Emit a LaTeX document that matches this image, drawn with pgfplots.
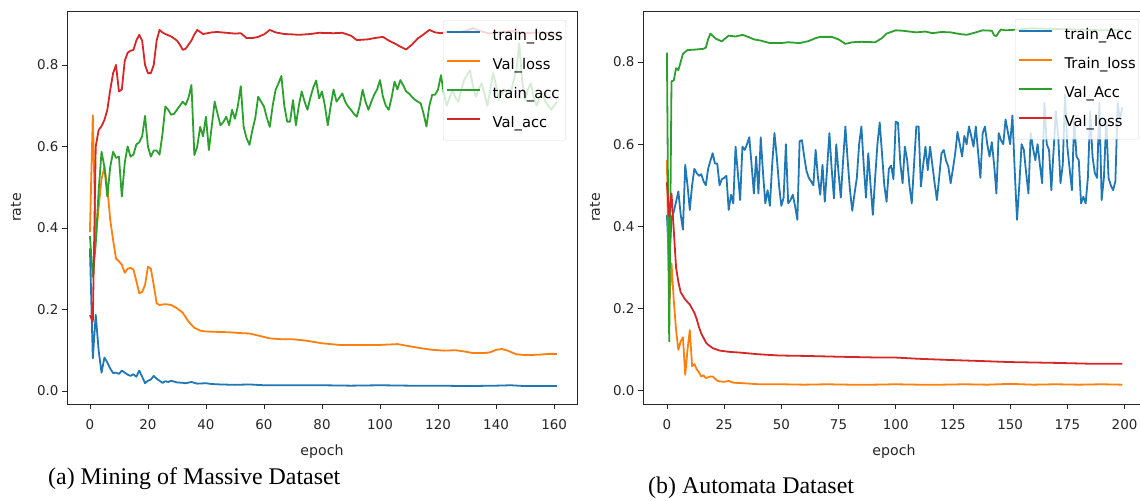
\documentclass[border=0pt]{standalone}
\usepackage{pgfplots}
\pgfplotsset{compat=1.18}
\usepackage{fontspec}
\setmainfont{Liberation Serif}
\newfontfamily\dejavu{DejaVu Sans}
\definecolor{cA}{HTML}{1F77B4}
\definecolor{cB}{HTML}{FF7F0E}
\definecolor{cC}{HTML}{2CA02C}
\definecolor{cD}{HTML}{D62728}
\pgfplotsset{
  mpl/.style={
    scale only axis,
    height=393bp,
    ymin=-0.032,
    ytick={0,0.2,0.4,0.6,0.8},
    axis line style={black!85, line width=0.8bp},
    tick style={black!85, line width=0.8bp},
    tick align=outside,
    tick pos=left,
    major tick length=5bp,
    /pgf/number format/assume math mode=true,
    ticklabel style={font=\dejavu\fontsize{13.5}{16}\selectfont, text=black!85},
    xticklabel style={yshift=-7bp},
    yticklabel style={/pgf/number format/fixed, /pgf/number format/fixed zerofill, /pgf/number format/precision=1},
    label style={font=\dejavu\fontsize{14.2}{17}\selectfont, text=black!85},
    xlabel style={at={(rel axis cs:0.5,0)}, anchor=center, yshift=-48bp},
    every axis plot/.append style={line width=1.8bp, line join=round},
    legend cell align=left,
    legend image code/.code={\draw[#1, line width=2.4bp] (0bp,4.5bp) -- (33bp,4.5bp);},
    legend style={
      anchor=north west,
      draw=black!15, fill=white, fill opacity=0.8, text opacity=1,
      rounded corners=2bp,
      font=\dejavu\fontsize{14.8}{17}\selectfont,
      inner xsep=3bp, inner ysep=9bp,
      row sep=14bp,
      nodes={inner sep=0pt, text height=11bp, text depth=4bp},
      /tikz/every odd column/.append style={column sep=11bp},
    },
  }
}
\begin{document}
\begin{tikzpicture}[x=1bp,y=1bp]
\useasboundingbox (0,0) rectangle (1140,-501);
% ---------------- (a) ----------------
\begin{axis}[mpl,
  at={(67bp,-404bp)}, anchor=south west,
  width=510bp,
  xmin=-7.9, xmax=167.9, ymax=0.9325,
  xtick={0,20,...,160},
  xlabel={epoch}, ylabel={rate},
  ylabel style={at={(rel axis cs:0,0.5)}, anchor=center, yshift=51bp},
  legend style={at={(rel axis cs:0.7373,0.977)}},
]
\addplot[cA] coordinates {(0,0.35)(1,0.08)(2,0.187)(3,0.10)(4,0.045)(5,0.082)(6,0.07)(7,0.055)(8,0.044)(9,0.045)(10,0.042)(11,0.05)(12,0.045)(13,0.04)(14,0.037)(15,0.041)(16,0.035)(17,0.05)(18,0.035)(19,0.019)(20,0.025)(21,0.028)(22,0.037)(23,0.03)(24,0.025)(25,0.02)(26,0.024)(27,0.022)(28,0.025)(30,0.021)(32,0.02)(33,0.019)(35,0.022)(37,0.018)(40,0.019)(42,0.017)(45,0.016)(50,0.015)(55,0.016)(60,0.014)(70,0.014)(80,0.014)(90,0.013)(100,0.014)(110,0.013)(120,0.013)(130,0.012)(140,0.013)(145,0.014)(150,0.012)(161,0.012)};
\addlegendentry{train\_loss}
\addplot[cB] coordinates {(0,0.39)(1,0.677)(2,0.37)(3,0.45)(4,0.52)(5,0.55)(6,0.50)(7,0.42)(8,0.37)(9,0.325)(10,0.318)(11,0.31)(12,0.29)(13,0.30)(14,0.302)(15,0.298)(16,0.27)(17,0.24)(18,0.243)(19,0.26)(20,0.305)(21,0.30)(22,0.26)(23,0.215)(24,0.211)(26,0.213)(28,0.211)(30,0.203)(32,0.192)(34,0.17)(36,0.155)(38,0.148)(40,0.146)(44,0.145)(48,0.144)(52,0.142)(55,0.141)(58,0.136)(62,0.129)(66,0.127)(70,0.127)(75,0.123)(80,0.117)(86,0.113)(92,0.113)(100,0.113)(106,0.115)(110,0.11)(114,0.105)(118,0.101)(122,0.099)(126,0.100)(129,0.097)(132,0.093)(136,0.093)(138,0.095)(140,0.101)(142,0.103)(144,0.099)(147,0.090)(150,0.088)(155,0.089)(158,0.091)(161,0.091)};
\addlegendentry{Val\_loss}
\addplot[cC] coordinates {(0,0.38)(1,0.28)(2,0.36)(3,0.49)(4,0.587)(5,0.55)(6,0.477)(7,0.55)(8,0.587)(9,0.572)(10,0.575)(11,0.477)(12,0.56)(13,0.60)(14,0.575)(15,0.58)(16,0.605)(17,0.61)(18,0.625)(19,0.675)(20,0.60)(21,0.575)(22,0.59)(23,0.59)(24,0.58)(25,0.63)(26,0.698)(27,0.69)(28,0.678)(29,0.68)(30,0.69)(31,0.70)(32,0.71)(33,0.702)(34,0.72)(35,0.751)(36,0.579)(37,0.60)(38,0.648)(39,0.625)(40,0.673)(41,0.591)(42,0.65)(43,0.71)(44,0.68)(45,0.652)(46,0.66)(47,0.673)(48,0.652)(49,0.69)(50,0.668)(51,0.70)(52,0.748)(53,0.648)(54,0.62)(55,0.604)(56,0.64)(57,0.67)(58,0.722)(59,0.71)(60,0.698)(61,0.67)(62,0.648)(63,0.70)(64,0.739)(65,0.755)(66,0.773)(67,0.70)(68,0.661)(69,0.661)(70,0.714)(71,0.652)(72,0.70)(73,0.735)(74,0.71)(75,0.69)(76,0.72)(77,0.745)(78,0.762)(79,0.718)(80,0.735)(81,0.70)(82,0.652)(83,0.70)(84,0.74)(85,0.71)(86,0.72)(87,0.73)(88,0.71)(89,0.698)(90,0.69)(91,0.68)(92,0.673)(93,0.70)(94,0.739)(95,0.71)(96,0.69)(97,0.71)(98,0.727)(99,0.74)(100,0.763)(101,0.722)(102,0.70)(103,0.69)(104,0.72)(105,0.759)(106,0.74)(107,0.763)(108,0.75)(109,0.735)(110,0.73)(111,0.722)(112,0.715)(113,0.71)(114,0.706)(115,0.681)(116,0.649)(117,0.70)(118,0.727)(119,0.727)(120,0.74)(121,0.775)(122,0.73)(123,0.70)(124,0.72)(125,0.74)(126,0.72)(127,0.71)(128,0.74)(129,0.763)(130,0.775)(131,0.787)(132,0.75)(133,0.722)(134,0.74)(135,0.755)(136,0.73)(137,0.70)(138,0.74)(139,0.78)(140,0.75)(141,0.714)(142,0.73)(143,0.74)(144,0.735)(145,0.73)(146,0.76)(147,0.787)(148,0.853)(149,0.76)(150,0.714)(151,0.74)(152,0.755)(153,0.72)(154,0.70)(155,0.72)(156,0.73)(157,0.71)(158,0.70)(159,0.69)(160,0.70)(161,0.71)};
\addlegendentry{train\_acc}
\addplot[cD] coordinates {(0,0.186)(1,0.17)(2,0.60)(3,0.64)(4,0.65)(5,0.665)(6,0.69)(7,0.739)(8,0.78)(9,0.80)(10,0.735)(11,0.74)(12,0.81)(13,0.83)(14,0.835)(15,0.837)(16,0.86)(17,0.874)(18,0.86)(19,0.80)(20,0.78)(21,0.78)(22,0.80)(23,0.86)(24,0.886)(25,0.88)(26,0.876)(28,0.87)(30,0.86)(31,0.85)(32,0.837)(33,0.84)(34,0.85)(35,0.86)(36,0.875)(37,0.886)(39,0.876)(42,0.88)(44,0.881)(47,0.879)(50,0.877)(52,0.878)(54,0.866)(56,0.866)(58,0.869)(60,0.875)(62,0.886)(64,0.88)(67,0.876)(70,0.875)(72,0.874)(76,0.876)(79,0.879)(84,0.878)(87,0.879)(90,0.872)(92,0.861)(94,0.862)(96,0.863)(98,0.866)(101,0.869)(103,0.86)(105,0.853)(107,0.845)(109,0.838)(111,0.85)(113,0.865)(115,0.875)(117,0.886)(119,0.88)(121,0.878)(124,0.882)(127,0.88)(130,0.885)(132,0.89)(135,0.882)(138,0.877)(141,0.88)(145,0.883)(150,0.878)(155,0.88)(161,0.876)};
\addlegendentry{Val\_acc}
\end{axis}
% ---------------- (b) ----------------
\begin{axis}[mpl,
  at={(643bp,-404bp)}, anchor=south west,
  width=502bp,
  xmin=-10.45, xmax=208.95, ymax=0.924,
  xtick={0,25,...,200},
  xlabel={epoch}, ylabel={rate},
  ylabel style={at={(rel axis cs:0,0.5)}, anchor=center, yshift=48bp},
  legend style={at={(rel axis cs:0.741,0.98)}},
]
\addplot[cA] coordinates {(0,0.428)(1,0.30)(2,0.42)(3,0.436)(4,0.46)(5,0.485)(6,0.43)(7,0.392)(8,0.55)(9,0.50)(10,0.44)(11,0.50)(12,0.54)(13,0.53)(14,0.523)(15,0.527)(16,0.51)(17,0.50)(18,0.54)(19,0.56)(20,0.578)(21,0.553)(22,0.553)(23,0.50)(24,0.515)(25,0.518)(26,0.523)(27,0.44)(28,0.477)(29,0.456)(30,0.594)(31,0.53)(32,0.464)(33,0.594)(34,0.586)(35,0.60)(36,0.617)(37,0.55)(38,0.48)(39,0.57)(40,0.48)(41,0.617)(42,0.53)(43,0.456)(44,0.488)(45,0.45)(46,0.55)(47,0.627)(48,0.57)(49,0.50)(50,0.45)(51,0.47)(52,0.60)(53,0.456)(54,0.464)(55,0.477)(56,0.45)(57,0.416)(58,0.607)(59,0.61)(60,0.57)(61,0.535)(62,0.518)(63,0.51)(64,0.50)(65,0.586)(66,0.52)(67,0.477)(68,0.55)(69,0.46)(70,0.54)(71,0.627)(72,0.54)(73,0.468)(74,0.60)(75,0.53)(76,0.47)(77,0.56)(78,0.643)(79,0.56)(80,0.488)(81,0.438)(82,0.48)(83,0.518)(84,0.60)(85,0.643)(86,0.55)(87,0.47)(88,0.578)(89,0.50)(90,0.428)(91,0.518)(92,0.60)(93,0.653)(94,0.578)(95,0.50)(96,0.46)(97,0.54)(98,0.548)(99,0.515)(100,0.655)(101,0.652)(102,0.554)(103,0.505)(104,0.594)(105,0.561)(106,0.50)(107,0.456)(108,0.55)(109,0.643)(110,0.643)(111,0.497)(112,0.55)(113,0.594)(114,0.537)(115,0.594)(116,0.55)(117,0.505)(118,0.464)(119,0.52)(120,0.578)(121,0.586)(122,0.56)(123,0.545)(124,0.505)(125,0.54)(126,0.578)(127,0.63)(128,0.60)(129,0.57)(130,0.62)(131,0.60)(132,0.643)(133,0.62)(134,0.594)(135,0.643)(136,0.58)(137,0.518)(138,0.627)(139,0.643)(140,0.60)(141,0.57)(142,0.605)(143,0.55)(144,0.48)(145,0.627)(146,0.61)(147,0.60)(148,0.66)(149,0.63)(150,0.60)(151,0.67)(152,0.537)(153,0.416)(154,0.50)(155,0.60)(156,0.586)(157,0.53)(158,0.48)(159,0.627)(160,0.59)(161,0.561)(162,0.60)(163,0.55)(164,0.505)(165,0.70)(166,0.60)(167,0.586)(168,0.488)(169,0.586)(170,0.68)(171,0.62)(172,0.505)(173,0.55)(174,0.72)(175,0.594)(176,0.54)(177,0.488)(178,0.66)(179,0.57)(180,0.561)(181,0.456)(182,0.472)(183,0.456)(184,0.52)(185,0.68)(186,0.57)(187,0.53)(188,0.518)(189,0.70)(190,0.464)(191,0.52)(192,0.66)(193,0.518)(194,0.50)(195,0.488)(196,0.51)(197,0.70)(198,0.66)(199,0.69)};
\addlegendentry{train\_Acc}
\addplot[cB] coordinates {(0,0.562)(1,0.205)(2,0.31)(3,0.22)(4,0.148)(5,0.10)(6,0.12)(7,0.13)(8,0.039)(9,0.10)(10,0.148)(11,0.06)(12,0.065)(13,0.053)(14,0.045)(15,0.035)(16,0.038)(17,0.031)(18,0.033)(19,0.035)(20,0.035)(21,0.03)(22,0.025)(23,0.023)(25,0.022)(27,0.024)(29,0.02)(32,0.019)(35,0.018)(40,0.016)(50,0.016)(60,0.015)(70,0.016)(80,0.015)(90,0.015)(100,0.016)(110,0.015)(120,0.015)(130,0.016)(140,0.015)(150,0.017)(160,0.015)(170,0.016)(180,0.015)(190,0.016)(199,0.015)};
\addlegendentry{Train\_loss}
\addplot[cC] coordinates {(0,0.823)(1,0.12)(2,0.753)(3,0.755)(4,0.785)(5,0.78)(6,0.80)(7,0.82)(9,0.829)(12,0.83)(16,0.832)(17,0.835)(18,0.855)(19,0.869)(21,0.858)(22,0.855)(24,0.85)(25,0.855)(27,0.864)(30,0.862)(33,0.866)(36,0.86)(38,0.855)(41,0.852)(45,0.846)(50,0.846)(53,0.848)(58,0.846)(62,0.851)(65,0.858)(67,0.861)(72,0.861)(75,0.855)(78,0.844)(81,0.848)(85,0.849)(91,0.848)(94,0.858)(96,0.869)(100,0.877)(103,0.876)(109,0.872)(113,0.874)(116,0.87)(120,0.873)(124,0.872)(128,0.868)(131,0.866)(135,0.872)(138,0.877)(142,0.876)(143,0.865)(144,0.863)(145,0.872)(146,0.879)(148,0.877)(151,0.878)(155,0.88)(160,0.882)(170,0.88)(180,0.879)(190,0.877)(199,0.878)};
\addlegendentry{Val\_Acc}
\addplot[cD] coordinates {(0,0.507)(1,0.424)(2,0.48)(3,0.39)(4,0.30)(5,0.265)(6,0.24)(8,0.222)(10,0.21)(12,0.19)(13,0.175)(14,0.155)(15,0.14)(17,0.118)(18,0.112)(20,0.104)(23,0.098)(27,0.095)(32,0.093)(40,0.089)(49,0.086)(60,0.085)(75,0.083)(93,0.081)(100,0.081)(110,0.078)(124,0.075)(140,0.072)(150,0.07)(170,0.068)(185,0.066)(199,0.066)};
\addlegendentry{Val\_loss}
\end{axis}
\node[anchor=west, inner sep=0pt, font=\fontsize{24}{28}\selectfont] at (48,-479) {(a) Mining of Massive Dataset};
\node[anchor=west, inner sep=0pt, font=\fontsize{24}{28}\selectfont] at (648,-488) {(b) Automata Dataset};
\end{tikzpicture}
\end{document}
